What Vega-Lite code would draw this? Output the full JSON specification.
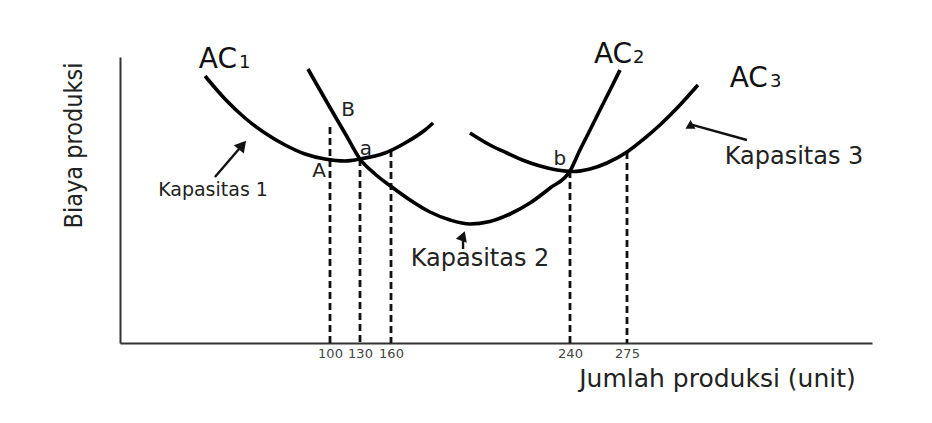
{
  "$schema": "https://vega.github.io/schema/vega-lite/v6.json",
  "width": 752,
  "height": 286,
  "autosize": "none",
  "padding": {"left": 120, "top": 57, "right": 60, "bottom": 80},
  "background": "white",
  "config": {
    "view": {"stroke": null},
    "font": "DejaVu Sans"
  },
  "datasets": {
    "curves": [
      {"kurva": "AC1", "jumlah": 40.5, "biaya": 267},
      {"kurva": "AC1", "jumlah": 50, "biaya": 244},
      {"kurva": "AC1", "jumlah": 59.5, "biaya": 225},
      {"kurva": "AC1", "jumlah": 69, "biaya": 210},
      {"kurva": "AC1", "jumlah": 78.6, "biaya": 198},
      {"kurva": "AC1", "jumlah": 88.1, "biaya": 189},
      {"kurva": "AC1", "jumlah": 97.6, "biaya": 184},
      {"kurva": "AC1", "jumlah": 115, "biaya": 182},
      {"kurva": "AC1", "jumlah": 130, "biaya": 184},
      {"kurva": "AC1", "jumlah": 154.2, "biaya": 190},
      {"kurva": "AC1", "jumlah": 166.3, "biaya": 200},
      {"kurva": "AC1", "jumlah": 175.2, "biaya": 213},
      {"kurva": "AC1", "jumlah": 178.8, "biaya": 220},
      {"kurva": "AC2", "jumlah": 89.5, "biaya": 274},
      {"kurva": "AC2", "jumlah": 95.2, "biaya": 253},
      {"kurva": "AC2", "jumlah": 102, "biaya": 232},
      {"kurva": "AC2", "jumlah": 116, "biaya": 208},
      {"kurva": "AC2", "jumlah": 130, "biaya": 184},
      {"kurva": "AC2", "jumlah": 144.5, "biaya": 169},
      {"kurva": "AC2", "jumlah": 160.4, "biaya": 156},
      {"kurva": "AC2", "jumlah": 168.5, "biaya": 143},
      {"kurva": "AC2", "jumlah": 177.4, "biaya": 131},
      {"kurva": "AC2", "jumlah": 186.4, "biaya": 123},
      {"kurva": "AC2", "jumlah": 195.3, "biaya": 119},
      {"kurva": "AC2", "jumlah": 204.2, "biaya": 121.5},
      {"kurva": "AC2", "jumlah": 213.2, "biaya": 129},
      {"kurva": "AC2", "jumlah": 222.1, "biaya": 140},
      {"kurva": "AC2", "jumlah": 231.1, "biaya": 155},
      {"kurva": "AC2", "jumlah": 240, "biaya": 172},
      {"kurva": "AC2", "jumlah": 246.1, "biaya": 193},
      {"kurva": "AC2", "jumlah": 252.3, "biaya": 213},
      {"kurva": "AC2", "jumlah": 258.4, "biaya": 233},
      {"kurva": "AC2", "jumlah": 264.6, "biaya": 253},
      {"kurva": "AC2", "jumlah": 270.7, "biaya": 273},
      {"kurva": "AC3", "jumlah": 195.3, "biaya": 210},
      {"kurva": "AC3", "jumlah": 204.2, "biaya": 198},
      {"kurva": "AC3", "jumlah": 211.8, "biaya": 190},
      {"kurva": "AC3", "jumlah": 219.9, "biaya": 182},
      {"kurva": "AC3", "jumlah": 226.6, "biaya": 177},
      {"kurva": "AC3", "jumlah": 234.2, "biaya": 173},
      {"kurva": "AC3", "jumlah": 241.8, "biaya": 171.5},
      {"kurva": "AC3", "jumlah": 252.3, "biaya": 174},
      {"kurva": "AC3", "jumlah": 262.7, "biaya": 180},
      {"kurva": "AC3", "jumlah": 275, "biaya": 191},
      {"kurva": "AC3", "jumlah": 284.2, "biaya": 205},
      {"kurva": "AC3", "jumlah": 291.8, "biaya": 218},
      {"kurva": "AC3", "jumlah": 302, "biaya": 238},
      {"kurva": "AC3", "jumlah": 311.2, "biaya": 258}
    ],
    "guides": [
      {"jumlah": 100, "biaya": 216},
      {"jumlah": 130, "biaya": 184},
      {"jumlah": 160, "biaya": 193},
      {"jumlah": 240, "biaya": 172},
      {"jumlah": 275, "biaya": 191}
    ],
    "arrows": [
      {"panah": "k1", "jumlah": 45.2, "biaya": 166, "jumlah2": 58.3, "biaya2": 198},
      {"panah": "k2", "jumlah": 192.2, "biaya": 94, "jumlah2": 192.2, "biaya2": 107},
      {"panah": "k3", "jumlah": 336.2, "biaya": 203, "jumlah2": 307.4, "biaya2": 218.6}
    ],
    "labels": [
      {"jenis": "ac", "teks": "AC", "jumlah": 55.7, "biaya": 275},
      {"jenis": "ac", "teks": "AC", "jumlah": 277.6, "biaya": 280},
      {"jenis": "ac", "teks": "AC", "jumlah": 346.9, "biaya": 256},
      {"jenis": "sub", "teks": "1", "jumlah": 56.7, "biaya": 275},
      {"jenis": "sub", "teks": "2", "jumlah": 278.1, "biaya": 280},
      {"jenis": "sub", "teks": "3", "jumlah": 347.9, "biaya": 256},
      {"jenis": "titik", "teks": "B", "jumlah": 118, "biaya": 233},
      {"jenis": "titik", "teks": "a", "jumlah": 135.8, "biaya": 194},
      {"jenis": "titik", "teks": "A", "jumlah": 94.8, "biaya": 172},
      {"jenis": "titik", "teks": "b", "jumlah": 235.5, "biaya": 184},
      {"jenis": "kap1", "teks": "Kapasitas 1", "jumlah": 44.3, "biaya": 153},
      {"jenis": "kap", "teks": "Kapasitas 2", "jumlah": 199.8, "biaya": 84},
      {"jenis": "kap", "teks": "Kapasitas 3", "jumlah": 360.2, "biaya": 186}
    ]
  },
  "encoding": {
    "x": {
      "field": "jumlah",
      "type": "quantitative",
      "scale": {
        "domain": [0, 100, 130, 160, 240, 275, 400],
        "range": [0, 210, 240, 271, 450, 507, 752],
        "nice": false,
        "zero": false
      },
      "axis": {
        "values": [100, 130, 160, 240, 275],
        "grid": false,
        "ticks": false,
        "labelPadding": 4,
        "labelFontSize": 13,
        "labelColor": "#444",
        "labelFont": "DejaVu Sans",
        "domainColor": "#333",
        "domainWidth": 2,
        "title": "Jumlah produksi (unit)",
        "titleFont": "DejaVu Sans",
        "titleFontSize": 25,
        "titleFontWeight": "normal",
        "titleColor": "#222",
        "titleX": 597,
        "titleY": 35,
        "titleAlign": "center",
        "titleBaseline": "middle"
      }
    },
    "y": {
      "field": "biaya",
      "type": "quantitative",
      "scale": {"domain": [0, 286], "nice": false},
      "axis": {
        "grid": false,
        "ticks": false,
        "labels": false,
        "domainColor": "#333",
        "domainWidth": 2,
        "title": "Biaya produksi",
        "titleFont": "Liberation Sans Narrow, DejaVu Sans Condensed, Liberation Sans, sans-serif",
        "titleFontSize": 25,
        "titleFontWeight": "normal",
        "titleColor": "#222",
        "titleAngle": -90,
        "titleX": -47,
        "titleY": 88,
        "titleAlign": "center",
        "titleBaseline": "middle"
      }
    }
  },
  "layer": [
    {
      "data": {"name": "guides"},
      "mark": {"type": "rule", "color": "#111", "strokeWidth": 2.8, "strokeDash": [7, 4]},
      "encoding": {"y2": {"datum": 0}}
    },
    {
      "data": {"name": "curves"},
      "mark": {"type": "line", "color": "#000", "strokeWidth": 3.6, "interpolate": "monotone"},
      "encoding": {"detail": {"field": "kurva", "type": "nominal"}}
    },
    {
      "data": {"name": "arrows"},
      "mark": {"type": "rule", "color": "#111", "strokeWidth": 2.4},
      "encoding": {
        "x2": {"field": "jumlah2"},
        "y2": {"field": "biaya2"}
      }
    },
    {
      "data": {"name": "arrows"},
      "mark": {"type": "point", "shape": "triangle-up", "filled": true, "color": "#111", "opacity": 1},
      "encoding": {
        "x": {"field": "jumlah2", "type": "quantitative"},
        "y": {"field": "biaya2", "type": "quantitative"},
        "angle": {"field": "panah", "type": "nominal", "scale": {"domain": ["k1", "k2", "k3"], "range": [40, 0, 286]}, "legend": null},
        "size": {"field": "panah", "type": "nominal", "scale": {"domain": ["k1", "k2", "k3"], "range": [170, 100, 130]}, "legend": null}
      }
    },
    {
      "data": {"name": "labels"},
      "transform": [{"filter": "datum.jenis == 'ac'"}],
      "mark": {"type": "text", "align": "right", "baseline": "alphabetic", "fontSize": 28, "color": "#111"},
      "encoding": {"text": {"field": "teks"}}
    },
    {
      "data": {"name": "labels"},
      "transform": [{"filter": "datum.jenis == 'sub'"}],
      "mark": {"type": "text", "align": "left", "baseline": "alphabetic", "fontSize": 18, "color": "#111"},
      "encoding": {"text": {"field": "teks"}}
    },
    {
      "data": {"name": "labels"},
      "transform": [{"filter": "datum.jenis == 'titik'"}],
      "mark": {"type": "text", "align": "center", "baseline": "middle", "fontSize": 20, "color": "#222"},
      "encoding": {"text": {"field": "teks"}}
    },
    {
      "data": {"name": "labels"},
      "transform": [{"filter": "datum.jenis == 'kap1'"}],
      "mark": {"type": "text", "align": "center", "baseline": "middle", "fontSize": 19, "color": "#222"},
      "encoding": {"text": {"field": "teks"}}
    },
    {
      "data": {"name": "labels"},
      "transform": [{"filter": "datum.jenis == 'kap'"}],
      "mark": {"type": "text", "align": "center", "baseline": "middle", "fontSize": 24, "color": "#222"},
      "encoding": {"text": {"field": "teks"}}
    }
  ]
}
